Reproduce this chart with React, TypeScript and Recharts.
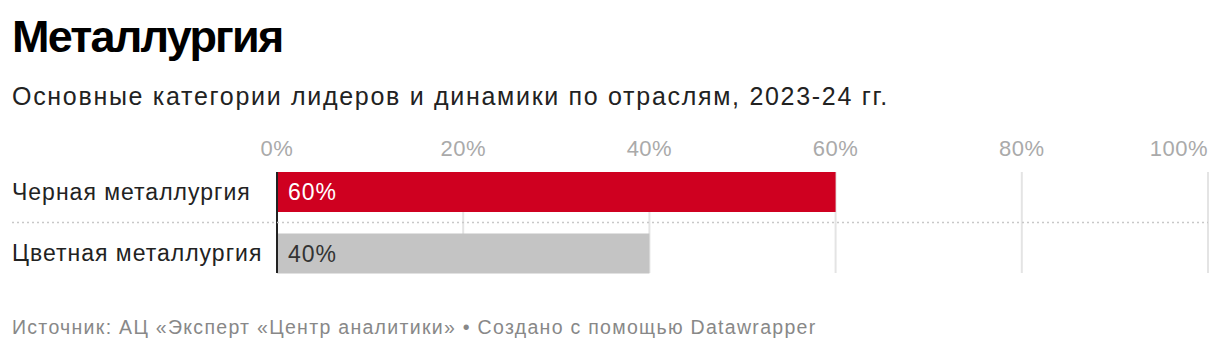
import { Bar, BarChart, CartesianGrid, Cell, LabelList, XAxis, YAxis } from "recharts";

const title = "Металлургия";
const subtitle = "Основные категории лидеров и динамики по отраслям, 2023-24 гг.";
const footer = "Источник: АЦ «Эксперт «Центр аналитики» • Создано с помощью Datawrapper";

const categories = ["Черная металлургия", "Цветная металлургия"];
const shares = [60, 40];
const xTicks = [0, 20, 40, 60, 80, 100];

const BAR_COLORS = ["#cf0020", "#c4c4c4"];
const LABEL_COLORS = ["#ffffff", "#333333"];
const FONT = "'Liberation Sans', Arial, sans-serif";

const W = 1220;
const H = 350;
const CHART_H = 300;
const MARGIN = { top: 132, right: 12, bottom: 27, left: 12 };
const BAND = 61.5;

const data = categories.map((name, i) => ({ name, share: shares[i] }));

const XTick = (props: any) => {
  const { x, y, payload, index } = props;
  const last = index === xTicks.length - 1;
  return (
    <text
      x={x}
      y={y}
      textAnchor={last ? "end" : "middle"}
      fill="#aaaaaa"
      fontSize={22}
      letterSpacing={0.5}
      fontFamily={FONT}
    >
      {payload.value}%
    </text>
  );
};

const YTick = (props: any) => {
  const { y, payload, index } = props;
  return (
    <g>
      <text x={MARGIN.left} y={y} dy="0.355em" fill="#222222" fontSize={23} letterSpacing={1} fontFamily={FONT}>
        {payload.value}
      </text>
      {index < categories.length - 1 && (
        <line
          x1={MARGIN.left}
          x2={W - MARGIN.right}
          y1={y + BAND / 2}
          y2={y + BAND / 2}
          stroke="#c8c8c8"
          strokeWidth={1.5}
          strokeDasharray="2 3"
        />
      )}
    </g>
  );
};

const ValueLabel = (props: any) => {
  const { x, y, height, value, index } = props;
  return (
    <text
      x={x + 11}
      y={y + height / 2}
      dy="0.355em"
      fill={LABEL_COLORS[index]}
      fontSize={23}
      letterSpacing={1}
      fontFamily={FONT}
    >
      {value}%
    </text>
  );
};

const App = () => {
  return (
    <div style={{ position: "absolute", left: 0, top: 0, width: W, height: H, background: "#fff", fontFamily: FONT }}>
      <svg width={W} height={H} style={{ position: "absolute", left: 0, top: 0 }}>
        <text x={12} y={52} fontSize={45} fontWeight={700} fill="#000" fontFamily={FONT} letterSpacing={-1.8}>
          {title}
        </text>
        <text x={12} y={105} fontSize={25} fill="#222" fontFamily={FONT} letterSpacing={1.7}>
          {subtitle}
        </text>
        <text x={12} y={334} fontSize={19.5} fill="#888" fontFamily={FONT} letterSpacing={1.3}>
          {footer}
        </text>
      </svg>
      <div style={{ position: "absolute", left: 0, top: 0 }}>
        <BarChart width={W} height={CHART_H} data={data} layout="vertical" margin={MARGIN}>
          <CartesianGrid horizontal={false} stroke="#e4e4e4" strokeWidth={2} />
          <XAxis
            type="number"
            orientation="top"
            domain={[0, 100]}
            ticks={xTicks}
            interval={0}
            height={40}
            axisLine={false}
            tickLine={false}
            tickSize={0}
            tickMargin={16}
            tick={<XTick />}
          />
          <YAxis
            type="category"
            dataKey="name"
            width={265}
            padding={{ top: -11, bottom: -11 }}
            axisLine={{ stroke: "#222", strokeWidth: 2 }}
            tickLine={false}
            tick={<YTick />}
          />
          <Bar dataKey="share" barSize={40} isAnimationActive={false}>
            {data.map((d, i) => (
              <Cell key={d.name} fill={BAR_COLORS[i]} />
            ))}
            <LabelList dataKey="share" content={<ValueLabel />} />
          </Bar>
        </BarChart>
      </div>
    </div>
  );
};

export default App;
